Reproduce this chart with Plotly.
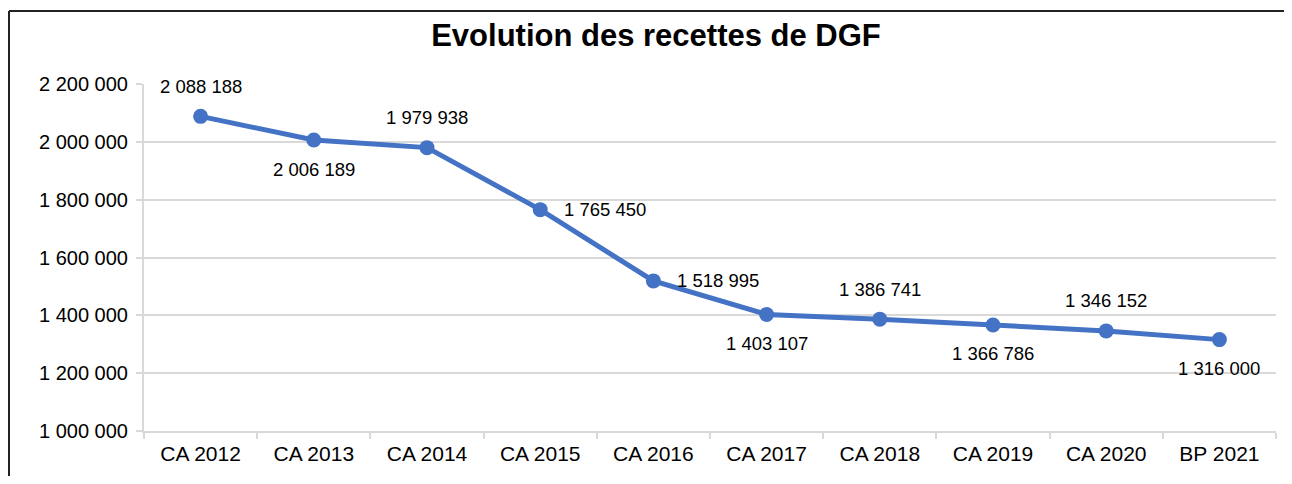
import plotly.graph_objects as go

categories = ["CA 2012", "CA 2013", "CA 2014", "CA 2015", "CA 2016",
              "CA 2017", "CA 2018", "CA 2019", "CA 2020", "BP 2021"]
values = [2088188, 2006189, 1979938, 1765450, 1518995,
          1403107, 1386741, 1366786, 1346152, 1316000]
label_pos = ["above", "below", "above", "right", "right",
             "below", "above", "below", "above", "below"]
title_text = "Evolution des recettes de DGF"

FONT = "Liberation Sans, Arial, sans-serif"
BLUE = "#4472C4"
GRID = "#d9d9d9"

# page has an 8px body margin: figure origin sits at page (8, 8)
OFF = 8
W, H = 1276, 468

fig = go.Figure()
fig.add_trace(go.Scatter(
    x=categories, y=values, mode="lines+markers",
    line=dict(color=BLUE, width=5),
    marker=dict(color=BLUE, size=15),
    hoverinfo="skip", showlegend=False,
))

def fmt(v):
    return f"{v:,}".replace(",", " ")

annotations = []
for c, v, p in zip(categories, values, label_pos):
    a = dict(x=c, y=v, text=fmt(v), showarrow=False,
             font=dict(family=FONT, size=18.5, color="#000000"))
    if p == "above":
        a.update(xanchor="center", yanchor="middle", yshift=30)
    elif p == "below":
        a.update(xanchor="center", yanchor="middle", yshift=-29)
    else:
        a.update(xanchor="left", yanchor="middle", xshift=22)
    annotations.append(a)

# plot area in page px: x 144..1276, y 84..431
L = 144 - OFF
T = 84 - OFF
R = W - (1276 - OFF)
B = H - (431 - OFF)
pw, ph = W - L - R, H - T - B

def px_x(page_x):
    return (page_x - OFF - L) / pw

def px_y(page_y):
    return (H - B - (page_y - OFF)) / ph

frame = dict(color="#222222", width=2)

fig.update_layout(
    width=W, height=H,
    margin=dict(l=L, r=R, t=T, b=B, pad=0),
    paper_bgcolor="white", plot_bgcolor="white",
    separators=", ",
    font=dict(family=FONT, size=20, color="#000000"),
    title=dict(text=f"<b>{title_text}</b>", x=(656 - OFF) / W, xanchor="center",
               xref="container", y=1 - (35 - OFF) / H, yref="container",
               yanchor="middle",
               font=dict(family=FONT, size=31, color="#000000")),
    xaxis=dict(
        type="category", range=[-0.5, len(categories) - 0.5],
        showgrid=False, showline=True, linecolor=GRID,
        linewidth=2, ticks="outside", tickson="boundaries", ticklen=6,
        tickcolor=GRID, tickwidth=2, tickfont=dict(size=21, color="#000000"),
        ticklabelstandoff=3, fixedrange=True,
    ),
    yaxis=dict(
        range=[1000000, 2200000], dtick=200000, tickformat=",.0f",
        showgrid=True, gridcolor=GRID, gridwidth=2,
        showline=True, linecolor=GRID, linewidth=2,
        ticks="outside", ticklen=6, tickcolor=GRID, tickwidth=2,
        tickfont=dict(size=20, color="#000000"), zeroline=False,
        ticklabelstandoff=4, fixedrange=True,
    ),
    annotations=annotations,
    shapes=[
        dict(type="line", xref="paper", yref="paper",
             x0=px_x(9), x1=px_x(1284), y0=px_y(11), y1=px_y(11),
             line=frame, layer="above"),
        dict(type="line", xref="paper", yref="paper",
             x0=px_x(9), x1=px_x(9), y0=px_y(11), y1=px_y(476),
             line=frame, layer="above"),
    ],
)

fig.write_html("out.html")
